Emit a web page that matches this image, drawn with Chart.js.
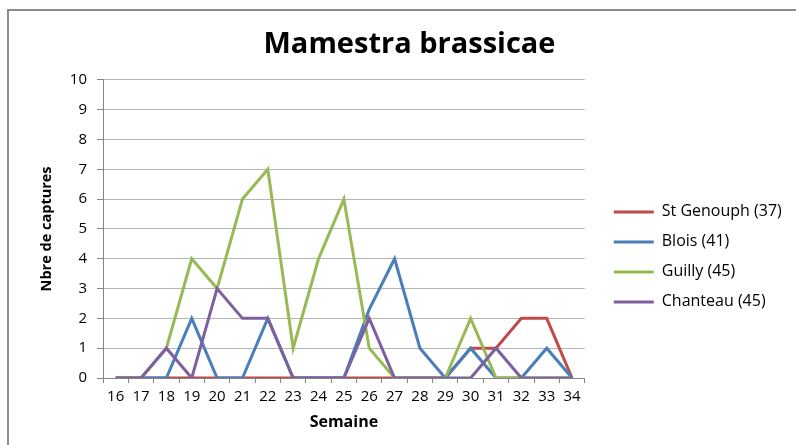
<!DOCTYPE html>
<html>
<head>
<meta charset="utf-8">
<script src="https://cdn.jsdelivr.net/npm/chart.js@4"></script>
<style>
  html, body { margin: 0; padding: 0; background: #fff; overflow: hidden; }
  #frame { position: absolute; left: 7px; top: 9px; width: 900px; height: 600px; border: 2px solid #8c8c8c; }
  #wrap { position: absolute; left: 0; top: 0; width: 796px; height: 445px; }
</style>
</head>
<body>
<div id="frame"></div>
<div id="wrap"><canvas id="c" width="796" height="445"></canvas></div>
<script>
// semaines 16 -> 34
const semaines = ["16","17","18","19","20","21","22","23","24","25","26","27","28","29","30","31","32","33","34"];

const stGenouph = [0,0,0,0,0,0,0,0,0,0,0,0,0,0,1,1,2,2,0];
const blois     = [0,0,0,2,0,0,2,0,0,0,2.3,4,1,0,1,0,0,1,0];
const guilly    = [0,0,1,4,3,6,7,1,4,6,1,0,0,0,2,0,0,0,0];
const chanteau  = [0,0,1,0,3,2,2,0,0,0,2,0,0,0,0,1,0,0,0];

const yTicks = [0,1,2,3,4,5,6,7,8,9,10];

const font = "'Open Sans', 'DejaVu Sans', sans-serif";

function serie(label, data, color, order){
  return {
    label: label,
    data: data,
    borderColor: color,
    backgroundColor: color,
    borderWidth: 3,
    pointRadius: 0,
    tension: 0,
    order: order
  };
}

// petit decalage du titre et de la legende pour les placer comme dans Excel
const shift = {
  id: 'shift',
  afterLayout(chart){
    const lg = chart.legend;
    lg.left += 15; lg.right += 15;
    lg.top += 28; lg.bottom += 28;
    const t = chart.titleBlock;
    t.left += 13; t.right += 13;
  }
};

new Chart(document.getElementById("c"), {
  type: 'line',
  data: {
    labels: semaines,
    datasets: [
      serie("St Genouph (37)", stGenouph, "#BE4B48", 4),
      serie("Blois (41)", blois, "#4A7EBB", 3),
      serie("Guilly (45)", guilly, "#98B954", 2),
      serie("Chanteau (45)", chanteau, "#7D60A0", 1)
    ]
  },
  options: {
    responsive: false,
    animation: false,
    devicePixelRatio: 1,
    layout: { padding: { left: 20, right: 23, top: 0, bottom: 0 } },
    plugins: {
      title: {
        display: true,
        text: "Mamestra brassicae",
        color: "#000",
        font: { family: font, size: 29, weight: 'bold' },
        padding: { top: 27, bottom: 18 }
      },
      legend: {
        position: 'right',
        fullSize: false,
        labels: {
          usePointStyle: true,
          pointStyle: 'line',
          pointStyleWidth: 40,
          color: "#000",
          font: { family: font, size: 16 },
          padding: 14,
          sort: (a, b) => a.datasetIndex - b.datasetIndex
        }
      },
      tooltip: { enabled: false }
    },
    scales: {
      x: {
        offset: true,
        grid: { offset: true, drawOnChartArea: false, drawTicks: true, tickLength: 5, color: "#868686" },
        border: { color: "#868686", width: 1 },
        ticks: { color: "#000", font: { family: font, size: 15 }, padding: 5, maxRotation: 0, autoSkip: false },
        title: {
          display: true,
          text: "Semaine",
          color: "#000",
          font: { family: font, size: 16, weight: 'bold' },
          padding: { top: 2, bottom: 13 }
        },
        afterFit(s){ s.height = 67; }
      },
      y: {
        min: 0,
        max: 10,
        afterBuildTicks(s){ s.ticks = yTicks.map(v => ({ value: v })); },
        grid: { color: "#b5b5b5", lineWidth: 1, drawTicks: true, tickLength: 6, tickColor: "#868686" },
        border: { color: "#868686", width: 1 },
        ticks: { color: "#000", font: { family: font, size: 15 }, padding: 10 },
        title: {
          display: true,
          text: "Nbre de captures",
          color: "#000",
          font: { family: font, size: 14.5, weight: 'bold' },
          padding: { top: 18, bottom: 4 }
        },
        afterFit(s){ s.width = 83; }
      }
    }
  },
  plugins: [shift]
});
</script>
</body>
</html>
